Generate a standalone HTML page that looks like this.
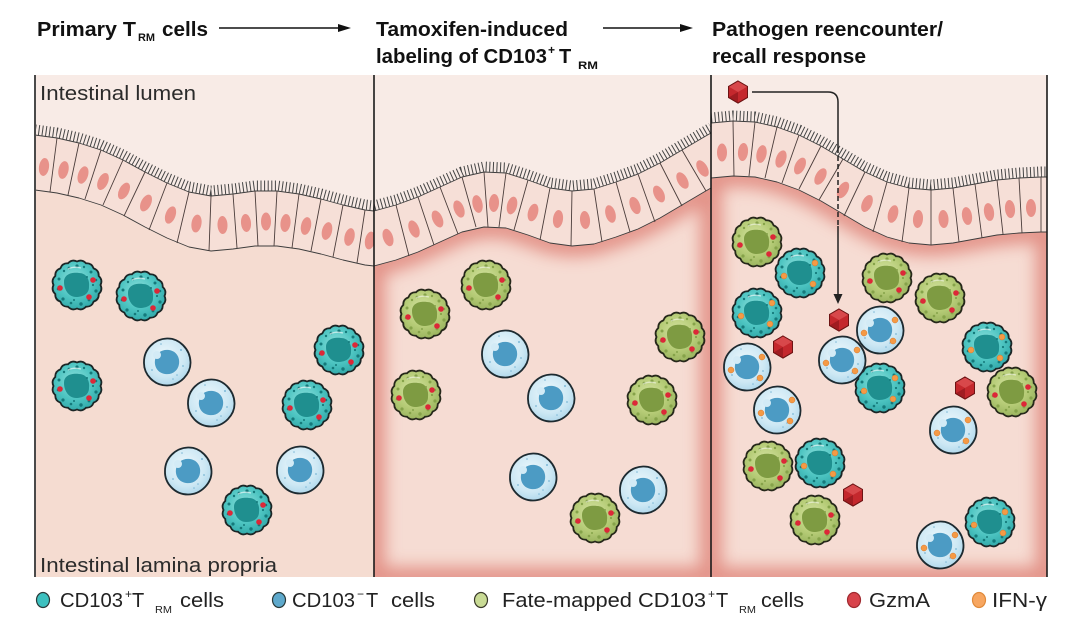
<!DOCTYPE html>
<html><head><meta charset="utf-8"><style>
html,body{margin:0;padding:0;background:#fff;width:1080px;height:624px;overflow:hidden}
svg{display:block}
text{font-family:"Liberation Sans",Arial,sans-serif}
</style></head><body>
<svg width="1080" height="624" viewBox="0 0 1080 624" xmlns="http://www.w3.org/2000/svg" xmlns:xlink="http://www.w3.org/1999/xlink">
<defs>
<radialGradient id="gT" cx="45%" cy="40%" r="60%"><stop offset="0" stop-color="#8fe0dc"/><stop offset=".6" stop-color="#4ec5c2"/><stop offset="1" stop-color="#33abab"/></radialGradient>
<radialGradient id="gB" cx="45%" cy="40%" r="60%"><stop offset="0" stop-color="#eef8fc"/><stop offset=".7" stop-color="#cde8f4"/><stop offset="1" stop-color="#b2d9ec"/></radialGradient>
<radialGradient id="gG" cx="45%" cy="40%" r="60%"><stop offset="0" stop-color="#d6e4a4"/><stop offset=".6" stop-color="#b6cc77"/><stop offset="1" stop-color="#9bb55f"/></radialGradient>
<filter id="bl" filterUnits="userSpaceOnUse" x="0" y="0" width="1080" height="624"><feGaussianBlur stdDeviation="8"/></filter>
<clipPath id="c1"><rect x="35" y="75" width="339" height="502"/></clipPath>
<clipPath id="c2"><rect x="374" y="75" width="337" height="502"/></clipPath>
<clipPath id="c3"><rect x="711" y="75" width="336" height="502"/></clipPath>
<path id="bump" d="M23.5,0 Q25.99,5.17 21.71,8.99 Q22.03,14.72 16.62,16.62 Q14.72,22.03 8.99,21.71 Q5.17,25.99 0,23.5 Q-5.17,25.99 -8.99,21.71 Q-14.72,22.03 -16.62,16.62 Q-22.03,14.72 -21.71,8.99 Q-25.99,5.17 -23.5,0 Q-25.99,-5.17 -21.71,-8.99 Q-22.03,-14.72 -16.62,-16.62 Q-14.72,-22.03 -8.99,-21.71 Q-5.17,-25.99 0,-23.5 Q5.17,-25.99 8.99,-21.71 Q14.72,-22.03 16.62,-16.62 Q22.03,-14.72 21.71,-8.99 Q25.99,-5.17 23.5,0Z"/>
<path id="nuc" d="M-13,-3 C-13,-11 -5,-13 2,-12 C9,-12 13,-6 12,2 C12,9 6,12 -1,12 C-8,12 -13,5 -13,-3Z"/>
<g id="gran">
<circle cx="0" cy="-19" r="1.6"/><circle cx="7" cy="-18" r="1.2"/><circle cx="-8" cy="-17" r="1.4"/><circle cx="14" cy="-13" r="1.5"/><circle cx="19" cy="-5" r="1.3"/><circle cx="19" cy="6" r="1.6"/><circle cx="12" cy="15" r="1.4"/><circle cx="4" cy="19" r="1.7"/><circle cx="-6" cy="18" r="1.3"/><circle cx="-14" cy="14" r="1.6"/><circle cx="-19" cy="4" r="1.3"/><circle cx="-18" cy="-6" r="1.5"/><circle cx="-13" cy="-14" r="1.2"/><circle cx="10" cy="-8" r="1"/><circle cx="-3" cy="15" r="1"/><circle cx="16" cy="0" r="1.1"/>
</g>
<g id="tcore">
<use xlink:href="#bump" fill="url(#gT)" stroke="#1b2626" stroke-width="1.8"/>
<use xlink:href="#nuc" fill="#1f8f8f"/>
<use xlink:href="#gran" fill="#157a7b"/>
<path d="M-9,-16 Q-3,-19 4,-17" stroke="#fff" stroke-width="1.4" fill="none" opacity=".6"/>
</g>
<g id="gcore">
<use xlink:href="#bump" fill="url(#gG)" stroke="#26281a" stroke-width="1.8"/>
<use xlink:href="#nuc" fill="#7e9b42"/>
<use xlink:href="#gran" fill="#86a34a"/>
<path d="M-9,-16 Q-3,-19 4,-17" stroke="#fff" stroke-width="1.4" fill="none" opacity=".5"/>
</g>
<g id="bcore">
<path d="M0,-23.5 C12,-24 23,-13 23.5,0 C24,12 13,23.5 0,23.5 C-13,23.5 -23.5,12.5 -23,0 C-23,-13 -12.5,-23 0,-23.5Z" fill="url(#gB)" stroke="#1d2a30" stroke-width="1.8"/>
<path d="M-12,-2 C-11,-9 -5,-13 2,-12 C9,-11 13,-5 12,2 C11,9 5,13 -2,12 C-9,11 -13,5 -12,-2Z" fill="#4c9bc4"/>
<circle cx="-10" cy="-7" r="4" fill="#d3ebf6"/>
<g fill="#7db8d6"><circle cx="14" cy="-12" r="1"/><circle cx="16" cy="4" r="0.9"/><circle cx="-15" cy="8" r="0.9"/><circle cx="6" cy="17" r="0.8"/><circle cx="-6" cy="-18" r="0.8"/><circle cx="10" cy="13" r="0.8"/></g>
</g>
<g id="red"><g fill="#dc2838"><circle cx="-17" cy="3" r="2.8"/><circle cx="16" cy="-5" r="2.8"/><circle cx="12" cy="12" r="2.8"/></g></g>
<g id="org"><g fill="#f59a45" stroke="#d9782c" stroke-width=".5"><circle cx="15" cy="-10" r="3"/><circle cx="-16" cy="3" r="3"/><circle cx="13" cy="11" r="3"/></g></g>
<g id="tcR"><use xlink:href="#tcore"/><use xlink:href="#red"/></g>
<g id="tcO"><use xlink:href="#tcore"/><use xlink:href="#org"/></g>
<g id="gcR"><use xlink:href="#gcore"/><use xlink:href="#red"/></g>
<g id="bc"><use xlink:href="#bcore"/></g>
<g id="bcO"><use xlink:href="#bcore"/><use xlink:href="#org"/></g>
<g id="hx">
<polygon points="0,-11 9.5,-5.5 9.5,5.5 0,11 -9.5,5.5 -9.5,-5.5" fill="#c4282d" stroke="#6d1414" stroke-width="1"/>
<polygon points="0,-11 9.5,-5.5 0,0 -9.5,-5.5" fill="#d8484b"/>
<polygon points="-9.5,5.5 0,0 0,11" fill="#a01c21"/>
<polygon points="0,-11 9.5,-5.5 9.5,5.5 0,11 -9.5,5.5 -9.5,-5.5" fill="none" stroke="#6d1414" stroke-width="1"/>
</g>
<ellipse id="nu" rx="5" ry="9" fill="#e8928a"/>
</defs>

<!-- PANEL 1 -->
<g clip-path="url(#c1)">
<rect x="35" y="75" width="339" height="502" fill="#f5dcd1"/>
<polygon fill="#f8ebe6" points="35,75 374,75 374,211 365,210 343,205 321,199 299,194 277,191 255,191 233,194 211,196 189,192 167,183 145,172 123,160 101,150 79,143 57,138 35,135"/>
<polygon fill="#f6dfd7" stroke="#3d3d3d" stroke-width="0.9" stroke-linejoin="round" points="35,135 57,138 79,143 101,150 123,160 145,172 167,183 189,192 211,196 233,194 255,191 277,191 299,194 321,199 343,205 365,210 374,211 374,266 365,265 343,260 321,254 299,249 277,246 255,246 233,249 211,251 189,247 167,238 145,227 123,215 101,205 79,198 57,193 35,190"/>
<path fill="none" stroke="#4a3c3a" stroke-width="0.9" d="M57,138L50,192M79,143L68,195M101,150L85,199M123,160L103,205M145,172L124,216M167,183L149,230M189,192L177,243M211,196L209,251M233,194L237,248M255,191L258,246M277,191L274,246M299,194L292,248M321,199L311,251M343,205L333,257M365,210L357,263"/>
<use xlink:href="#nu" transform="translate(44,167) rotate(8)"/>
<use xlink:href="#nu" transform="translate(63.5,170) rotate(12)"/>
<use xlink:href="#nu" transform="translate(83,175) rotate(18)"/>
<use xlink:href="#nu" transform="translate(103,181.5) rotate(24)"/>
<use xlink:href="#nu" transform="translate(124,191) rotate(27)"/>
<use xlink:href="#nu" transform="translate(146,203) rotate(26)"/>
<use xlink:href="#nu" transform="translate(170.5,215) rotate(20)"/>
<use xlink:href="#nu" transform="translate(196.5,223.5) rotate(9)"/>
<use xlink:href="#nu" transform="translate(222.5,225) rotate(-2)"/>
<use xlink:href="#nu" transform="translate(246,223) rotate(-5)"/>
<use xlink:href="#nu" transform="translate(266,221.5) rotate(0)"/>
<use xlink:href="#nu" transform="translate(285.5,223) rotate(7)"/>
<use xlink:href="#nu" transform="translate(306,226) rotate(12)"/>
<use xlink:href="#nu" transform="translate(327,231) rotate(14)"/>
<use xlink:href="#nu" transform="translate(349.5,237) rotate(13)"/>
<use xlink:href="#nu" transform="translate(370,240.5) rotate(11)"/>
<polyline transform="translate(0,-5.5)" fill="none" stroke="#444" stroke-width="10" stroke-dasharray="1 2.6" points="35,135 57,138 79,143 101,150 123,160 145,172 167,183 189,192 211,196 233,194 255,191 277,191 299,194 321,199 343,205 365,210 374,211"/>
</g>

<!-- PANEL 2 -->
<g clip-path="url(#c2)">
<rect x="374" y="75" width="337" height="502" fill="#f6dcd3"/>
<path filter="url(#bl)" fill="none" stroke="#e0867c" stroke-width="22" opacity=".85" d="M374,266 L396,260 L418,252 L440,242 L462,232 L484,227 L506,228 L528,235 L550,243 L572,246 L594,244 L616,237 L638,229 L660,218 L682,205 L704,192 L711,188 L711,578 L374,578 Z"/>
<polygon fill="#f8ebe6" points="374,75 711,75 711,133 704,137 682,150 660,163 638,174 616,182 594,189 572,191 550,188 528,180 506,173 484,172 462,177 440,187 418,197 396,205 374,211"/>
<polygon fill="#f6dfd7" stroke="#3d3d3d" stroke-width="0.9" stroke-linejoin="round" points="374,211 396,205 418,197 440,187 462,177 484,172 506,173 528,180 550,188 572,191 594,189 616,182 638,174 660,163 682,150 704,137 711,133 711,188 704,192 682,205 660,218 638,229 616,237 594,244 572,246 550,243 528,235 506,228 484,227 462,232 440,242 418,252 396,260 374,266"/>
<path fill="none" stroke="#4a3c3a" stroke-width="0.9" d="M396,205L409,256M418,197L434,245M440,187L458,234M462,177L476,227M484,172L488,227M506,173L499,227M528,180L514,230M550,188L540,240M572,191L571,246M594,189L602,242M616,182L630,232M638,174L655,222M660,163L682,206M682,150L706,191"/>
<use xlink:href="#nu" transform="translate(388,237.5) rotate(-18)"/>
<use xlink:href="#nu" transform="translate(414,229) rotate(-22)"/>
<use xlink:href="#nu" transform="translate(437.5,219) rotate(-24)"/>
<use xlink:href="#nu" transform="translate(459,209) rotate(-21)"/>
<use xlink:href="#nu" transform="translate(477.5,204) rotate(-12)"/>
<use xlink:href="#nu" transform="translate(494,203) rotate(3)"/>
<use xlink:href="#nu" transform="translate(512,205.5) rotate(14)"/>
<use xlink:href="#nu" transform="translate(533,212.5) rotate(16)"/>
<use xlink:href="#nu" transform="translate(558,219) rotate(7)"/>
<use xlink:href="#nu" transform="translate(585,220) rotate(-5)"/>
<use xlink:href="#nu" transform="translate(610.5,214) rotate(-15)"/>
<use xlink:href="#nu" transform="translate(635,205.5) rotate(-21)"/>
<use xlink:href="#nu" transform="translate(659,194) rotate(-26)"/>
<use xlink:href="#nu" transform="translate(682.5,180.5) rotate(-29)"/>
<use xlink:href="#nu" transform="translate(702.5,168.5) rotate(-30)"/>
<polyline transform="translate(0,-5.5)" fill="none" stroke="#444" stroke-width="10" stroke-dasharray="1 2.6" points="374,211 396,205 418,197 440,187 462,177 484,172 506,173 528,180 550,188 572,191 594,189 616,182 638,174 660,163 682,150 704,137 711,133"/>
</g>

<!-- PANEL 3 -->
<g clip-path="url(#c3)">
<rect x="711" y="75" width="336" height="502" fill="#f6dcd3"/>
<path filter="url(#bl)" fill="none" stroke="#e0867c" stroke-width="22" opacity=".85" d="M711,178 L733,176 L755,177 L777,182 L799,190 L821,201 L843,214 L865,227 L887,237 L909,243 L931,245 L953,243 L975,239 L997,235 L1019,233 L1041,232 L1047,232 L1047,578 L711,578 Z"/>
<polygon fill="#f8ebe6" points="711,75 1047,75 1047,177 1041,177 1019,178 997,180 975,184 953,188 931,190 909,188 887,182 865,172 843,159 821,146 799,135 777,127 755,122 733,121 711,123"/>
<polygon fill="#f6dfd7" stroke="#3d3d3d" stroke-width="0.9" stroke-linejoin="round" points="711,123 733,121 755,122 777,127 799,135 821,146 843,159 865,172 887,182 909,188 931,190 953,188 975,184 997,180 1019,178 1041,177 1047,177 1047,232 1041,232 1019,233 997,235 975,239 953,243 931,245 909,243 887,237 865,227 843,214 821,201 799,190 777,182 755,177 733,176 711,178"/>
<path fill="none" stroke="#4a3c3a" stroke-width="0.9" d="M733,121L734,176M755,122L749,176M777,127L765,178M799,135L782,183M821,146L799,189M843,159L819,200M865,172L844,216M887,182L873,232M909,188L902,242M931,190L931,245M953,188L959,242M975,184L982,238M997,180L1003,234M1019,178L1022,233M1041,177L1041,232"/>
<use xlink:href="#nu" transform="translate(722,152.5) rotate(0)"/>
<use xlink:href="#nu" transform="translate(743,152) rotate(6)"/>
<use xlink:href="#nu" transform="translate(761.5,154) rotate(12)"/>
<use xlink:href="#nu" transform="translate(781,159) rotate(20)"/>
<use xlink:href="#nu" transform="translate(800,166) rotate(26)"/>
<use xlink:href="#nu" transform="translate(820.5,176.5) rotate(29)"/>
<use xlink:href="#nu" transform="translate(843,190) rotate(29)"/>
<use xlink:href="#nu" transform="translate(867,203.5) rotate(24)"/>
<use xlink:href="#nu" transform="translate(893,214) rotate(15)"/>
<use xlink:href="#nu" transform="translate(918,219) rotate(5)"/>
<use xlink:href="#nu" transform="translate(943.5,219) rotate(-4)"/>
<use xlink:href="#nu" transform="translate(967,216) rotate(-9)"/>
<use xlink:href="#nu" transform="translate(989,212) rotate(-9)"/>
<use xlink:href="#nu" transform="translate(1010,209) rotate(-6)"/>
<use xlink:href="#nu" transform="translate(1031,208) rotate(-2)"/>
<polyline transform="translate(0,-5.5)" fill="none" stroke="#444" stroke-width="10" stroke-dasharray="1 2.6" points="711,123 733,121 755,122 777,127 799,135 821,146 843,159 865,172 887,182 909,188 931,190 953,188 975,184 997,180 1019,178 1041,177 1047,177"/>
</g>

<!-- panel borders -->
<line x1="35" y1="75" x2="35" y2="577" stroke="#4a4a4a" stroke-width="2"/>
<line x1="374" y1="75" x2="374" y2="577" stroke="#1a1a1a" stroke-width="1.6"/>
<line x1="711" y1="75" x2="711" y2="577" stroke="#1a1a1a" stroke-width="1.6"/>
<line x1="1047" y1="75" x2="1047" y2="577" stroke="#1a1a1a" stroke-width="1.6"/>

<!-- pathogen arrow -->
<path d="M752,92 H828 Q838,92 838,102 V148" fill="none" stroke="#222" stroke-width="1.5"/>
<path d="M838,148 V226" fill="none" stroke="#222" stroke-width="1.5" stroke-dasharray="5 3"/>
<path d="M838,226 V296" fill="none" stroke="#222" stroke-width="1.5"/>
<polygon points="833.5,294 842.5,294 838,304" fill="#222"/>

<!-- cells panel 1 -->
<use xlink:href="#tcR" x="77" y="285"/>
<use xlink:href="#tcR" x="141" y="296"/>
<use xlink:href="#tcR" x="77" y="386"/>
<use xlink:href="#tcR" x="339" y="350"/>
<use xlink:href="#tcR" x="307" y="405"/>
<use xlink:href="#tcR" x="247" y="510"/>
<use xlink:href="#bc" x="167" y="362"/>
<use xlink:href="#bc" x="211" y="403"/>
<use xlink:href="#bc" x="188" y="471"/>
<use xlink:href="#bc" x="300" y="470"/>

<!-- cells panel 2 -->
<use xlink:href="#gcR" x="425" y="314"/>
<use xlink:href="#gcR" x="486" y="285"/>
<use xlink:href="#gcR" x="680" y="337"/>
<use xlink:href="#gcR" x="416" y="395"/>
<use xlink:href="#gcR" x="652" y="400"/>
<use xlink:href="#gcR" x="595" y="518"/>
<use xlink:href="#bc" x="505" y="354"/>
<use xlink:href="#bc" x="551" y="398"/>
<use xlink:href="#bc" x="533" y="477"/>
<use xlink:href="#bc" x="643" y="490"/>

<!-- cells panel 3 -->
<use xlink:href="#gcR" x="757" y="242"/>
<use xlink:href="#gcR" x="887" y="278"/>
<use xlink:href="#gcR" x="940" y="298"/>
<use xlink:href="#gcR" x="1012" y="392"/>
<use xlink:href="#gcR" x="768" y="466"/>
<use xlink:href="#gcR" x="815" y="520"/>
<use xlink:href="#tcO" x="800" y="273"/>
<use xlink:href="#tcO" x="757" y="313"/>
<use xlink:href="#tcO" x="987" y="347"/>
<use xlink:href="#tcO" x="880" y="388"/>
<use xlink:href="#tcO" x="820" y="463"/>
<use xlink:href="#tcO" x="990" y="522"/>
<use xlink:href="#bcO" x="880" y="330"/>
<use xlink:href="#bcO" x="747" y="367"/>
<use xlink:href="#bcO" x="842" y="360"/>
<use xlink:href="#bcO" x="777" y="410"/>
<use xlink:href="#bcO" x="953" y="430"/>
<use xlink:href="#bcO" x="940" y="545"/>
<use xlink:href="#hx" x="839" y="320"/>
<use xlink:href="#hx" x="783" y="347"/>
<use xlink:href="#hx" x="965" y="388"/>
<use xlink:href="#hx" x="853" y="495"/>
<use xlink:href="#hx" x="738" y="92"/>

<!-- headers -->
<g fill="#111" font-weight="700">
<text x="37" y="36" font-size="20" textLength="99" lengthAdjust="spacingAndGlyphs">Primary T</text>
<text x="138" y="41" font-size="11" textLength="17" lengthAdjust="spacingAndGlyphs">RM</text>
<text x="162" y="36" font-size="20" textLength="46" lengthAdjust="spacingAndGlyphs">cells</text>
<text x="376" y="36" font-size="20" textLength="192" lengthAdjust="spacingAndGlyphs">Tamoxifen-induced</text>
<text x="376" y="63" font-size="20" textLength="171" lengthAdjust="spacingAndGlyphs">labeling of CD103</text>
<text x="548" y="54" font-size="12">+</text>
<text x="559" y="63" font-size="20">T</text>
<text x="578" y="69" font-size="11" textLength="20" lengthAdjust="spacingAndGlyphs">RM</text>
<text x="712" y="36" font-size="20" textLength="231" lengthAdjust="spacingAndGlyphs">Pathogen reencounter/</text>
<text x="712" y="63" font-size="20" textLength="154" lengthAdjust="spacingAndGlyphs">recall response</text>
</g>
<line x1="219" y1="28" x2="340" y2="28" stroke="#111" stroke-width="1.6"/>
<polygon points="338,24 351,28 338,32" fill="#111"/>
<line x1="603" y1="28" x2="682" y2="28" stroke="#111" stroke-width="1.6"/>
<polygon points="680,24 693,28 680,32" fill="#111"/>

<!-- region labels -->
<text x="40" y="100" font-size="20" fill="#2b2b2b" textLength="156" lengthAdjust="spacingAndGlyphs">Intestinal lumen</text>
<text x="40" y="572" font-size="20" fill="#2b2b2b" textLength="237" lengthAdjust="spacingAndGlyphs">Intestinal lamina propria</text>

<!-- legend -->
<ellipse cx="43" cy="600" rx="6.5" ry="7.5" fill="#3cc0bf" stroke="#2a3a3a" stroke-width="1.2"/>
<ellipse cx="279" cy="600" rx="6.5" ry="7.5" fill="#5ea9cc" stroke="#2a3a3a" stroke-width="1.2"/>
<ellipse cx="481" cy="600" rx="6.5" ry="7.5" fill="#c9db95" stroke="#3a3a2a" stroke-width="1.2"/>
<ellipse cx="854" cy="600" rx="6.5" ry="7.5" fill="#d8434b" stroke="#a02a30" stroke-width="1.2"/>
<ellipse cx="979" cy="600" rx="6.5" ry="7.5" fill="#f7a660" stroke="#e08a3a" stroke-width="1.2"/>
<g fill="#222">
<text x="60" y="607" font-size="20" textLength="63" lengthAdjust="spacingAndGlyphs">CD103</text>
<text x="125" y="598" font-size="12">+</text>
<text x="132" y="607" font-size="20">T</text>
<text x="155" y="613" font-size="10" textLength="17" lengthAdjust="spacingAndGlyphs">RM</text>
<text x="180" y="607" font-size="20" textLength="44" lengthAdjust="spacingAndGlyphs">cells</text>

<text x="292" y="607" font-size="20" textLength="63" lengthAdjust="spacingAndGlyphs">CD103</text>
<text x="357" y="598" font-size="12">−</text>
<text x="366" y="607" font-size="20">T</text>
<text x="391" y="607" font-size="20" textLength="44" lengthAdjust="spacingAndGlyphs">cells</text>

<text x="502" y="607" font-size="20" textLength="204" lengthAdjust="spacingAndGlyphs">Fate-mapped CD103</text>
<text x="708" y="598" font-size="12">+</text>
<text x="716" y="607" font-size="20">T</text>
<text x="739" y="613" font-size="10" textLength="17" lengthAdjust="spacingAndGlyphs">RM</text>
<text x="761" y="607" font-size="20" textLength="43" lengthAdjust="spacingAndGlyphs">cells</text>

<text x="869" y="607" font-size="20" textLength="61" lengthAdjust="spacingAndGlyphs">GzmA</text>
<text x="992" y="607" font-size="20" textLength="55" lengthAdjust="spacingAndGlyphs">IFN-γ</text>
</g>
</svg>
</body></html>
